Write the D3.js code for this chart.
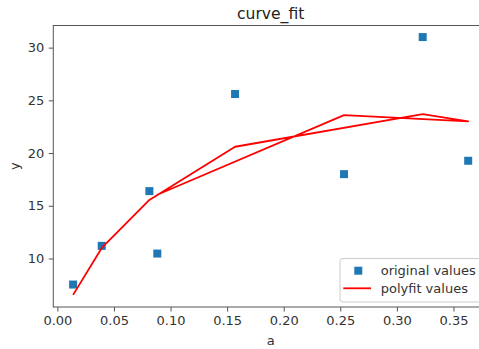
<!DOCTYPE html>
<html>
<head>
<meta charset="utf-8">
<script src="https://cdn.jsdelivr.net/npm/d3@7"></script>
<style>
  html, body { margin: 0; padding: 0; background: #fff; }
  svg { display: block; }
  text { font-family: "DejaVu Sans", sans-serif; }
</style>
</head>
<body>
<svg id="chart" width="479" height="349"></svg>
<script>
// Data (in plotting order)
const xValues = [0.0139, 0.0392, 0.0813, 0.157, 0.3228, 0.363, 0.2533, 0.0883];
const originalValues = [7.53, 11.2, 16.39, 25.6, 31.0, 19.27, 18.0, 10.47];
const polyfitValues = [6.55, 11.0, 15.55, 20.6, 23.7, 23.0, 23.6, 16.05];
const xTicks = [0.00, 0.05, 0.10, 0.15, 0.20, 0.25, 0.30, 0.35];
const yTicks = [10, 15, 20, 25, 30];
const chartTitle = "curve_fit";
const xLabel = "a";
const yLabel = "y";
const legendLabels = ["original values", "polyfit values"];

const svg = d3.select("#chart");
const pLeft = 53.3, pRight = 488, pTop = 25.5, pBottom = 307;

const x = d3.scaleLinear().domain([-0.0036, 0.3805]).range([pLeft, pRight]);
const y = d3.scaleLinear().domain([5.4, 32.1]).range([pBottom, pTop]);

const textColor = "#333";
const spineColor = "#555";

// Axes
const xAxis = d3.axisBottom(x).tickValues(xTicks).tickFormat(d3.format(".2f"))
  .tickSizeInner(4.5).tickSizeOuter(0).tickPadding(4.5);
const yAxis = d3.axisLeft(y).tickValues(yTicks).tickFormat(d3.format("d"))
  .tickSizeInner(4.5).tickSizeOuter(0).tickPadding(4.5);

const gx = svg.append("g").attr("transform", `translate(0,${pBottom})`).call(xAxis);
const gy = svg.append("g").attr("transform", `translate(${pLeft},0)`).call(yAxis);
[gx, gy].forEach(g => {
  g.select(".domain").remove();
  g.selectAll(".tick line").attr("stroke", spineColor).attr("stroke-width", 1);
  g.selectAll(".tick text").attr("fill", textColor)
    .style("font-family", "'DejaVu Sans', sans-serif").style("font-size", "13px");
});

// Spines
svg.append("rect").attr("x", pLeft).attr("y", pTop)
  .attr("width", pRight - pLeft).attr("height", pBottom - pTop)
  .attr("fill", "none").attr("stroke", spineColor).attr("stroke-width", 1);

// Scatter
svg.append("g").selectAll("rect").data(xValues).join("rect")
  .attr("x", (d) => x(d) - 4)
  .attr("y", (d, i) => y(originalValues[i]) - 4)
  .attr("width", 8).attr("height", 8)
  .attr("fill", "#1f77b4");

// Line
const line = d3.line().x(d => x(d[0])).y(d => y(d[1]));
svg.append("path")
  .datum(xValues.map((d, i) => [d, polyfitValues[i]]))
  .attr("d", line)
  .attr("fill", "none").attr("stroke", "#ff0000").attr("stroke-width", 1.8)
  .attr("stroke-linejoin", "round");

// Title and labels
svg.append("text").attr("x", (pLeft + pRight) / 2).attr("y", 19)
  .attr("text-anchor", "middle").attr("fill", "#222")
  .style("font-size", "15.6px").text(chartTitle);
svg.append("text").attr("x", (pLeft + pRight) / 2).attr("y", 345)
  .attr("text-anchor", "middle").attr("fill", textColor)
  .style("font-size", "13px").text(xLabel);
svg.append("text").attr("transform", `translate(18.7,${(pTop + pBottom) / 2}) rotate(-90)`)
  .attr("text-anchor", "middle").attr("fill", textColor)
  .style("font-size", "13px").text(yLabel);

// Legend
const lg = svg.append("g");
lg.append("rect").attr("x", 340).attr("y", 258.5).attr("width", 160).attr("height", 43.5)
  .attr("rx", 3).attr("fill", "#fff").attr("fill-opacity", 0.8)
  .attr("stroke", "#ccc").attr("stroke-width", 1);
lg.append("rect").attr("x", 354.3).attr("y", 266.7).attr("width", 8).attr("height", 8)
  .attr("fill", "#1f77b4");
lg.append("line").attr("x1", 343.3).attr("x2", 371).attr("y1", 288.3).attr("y2", 288.3)
  .attr("stroke", "#ff0000").attr("stroke-width", 1.8);
lg.selectAll("text.lbl").data(legendLabels).join("text").attr("class", "lbl")
  .attr("x", 380.7).attr("y", (d, i) => 275.2 + i * 17.6)
  .attr("fill", textColor).style("font-size", "13px").text(d => d);
</script>
</body>
</html>
